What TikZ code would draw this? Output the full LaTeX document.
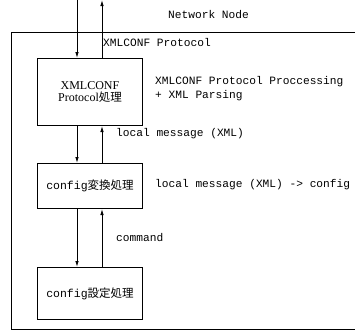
\documentclass[tikz,border=0pt]{standalone}
\usepackage{fontspec}
\setmainfont{Liberation Serif}
\setmonofont{Liberation Mono}
\newfontfamily\cjk{Noto Sans CJK JP}
\usetikzlibrary{arrows.meta}
\begin{document}
\begin{tikzpicture}[x=1pt,y=-1pt,
  procbox/.style={draw,line width=1pt,minimum width=105pt,inner sep=0pt,align=center,font=\fontsize{12}{13}\selectfont},
  flow/.style={line width=0.9pt,-{Latex[length=6pt,width=3.5pt]}},
  lbl/.style={anchor=west,inner sep=0pt,font=\ttfamily\fontsize{11.2}{14}\selectfont,align=left}]
\useasboundingbox (0,0) rectangle (355,332);
% enclosing network node frame (open to the right)
\draw[line width=0.8pt] (355,32) -- (11,32) -- (11,329) -- (355,329);
% processing stages
\node[procbox,minimum height=67pt,anchor=north west] (b1) at (37,58) {XMLCONF\\[-1pt]Protocol{\cjk\fontsize{11.5}{13}\selectfont 処理}};
\node[procbox,minimum height=45pt,anchor=north west] (b2) at (37,163) {\ttfamily\fontsize{11.5}{13}\selectfont config{\cjk 変換処理}};
\node[procbox,minimum height=52pt,anchor=north west] (b3) at (37,267) {\ttfamily\fontsize{11.5}{13}\selectfont config{\cjk 設定処理}};
% vertical lanes for requests (down) and replies (up)
\coordinate (inTop) at (77,0);
\coordinate (outTop) at (102,0);
\draw[flow] (inTop) -- (inTop |- b1.north);
\draw[flow] (b1.north -| outTop) -- (outTop);
\draw[flow] (b1.south -| inTop) -- (b2.north -| inTop);
\draw[flow] (b2.north -| outTop) -- (b1.south -| outTop);
\draw[flow] (b2.south -| inTop) -- (b3.north -| inTop);
\draw[flow] (b3.north -| outTop) -- (b2.south -| outTop);
% annotations
\node[lbl] (nn) at (168,15) {Network Node};
\node[lbl] (proto) at (103,42) {XMLCONF Protocol};
\node[lbl] (parse) at (155,89) {XMLCONF Protocol Proccessing\\+ XML Parsing};
\node[lbl] (lm) at (116,134) {local message (XML)};
\node[lbl] (conv) at (155,185) {local message (XML) -> config};
\node[lbl] (cmd) at (116,238) {command};
\end{tikzpicture}
\end{document}
